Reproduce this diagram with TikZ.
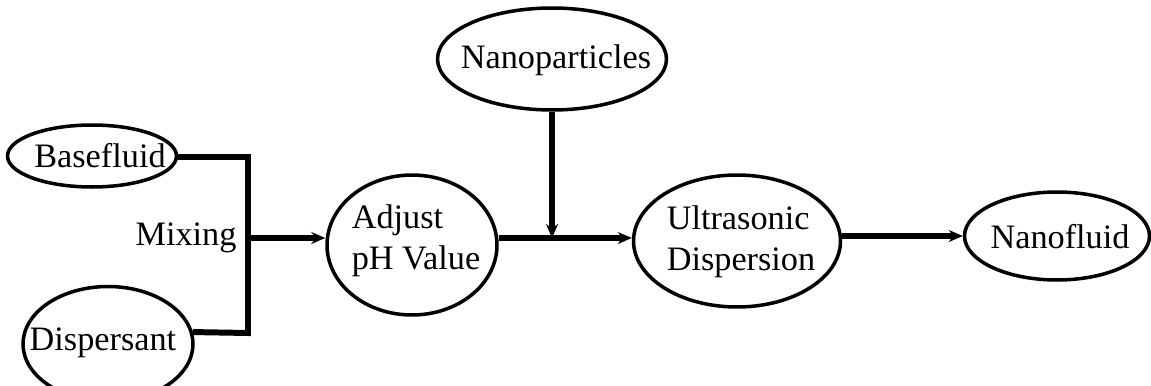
\documentclass[tikz,border=0pt]{standalone}
\usepackage{fontspec}
\setmainfont{Liberation Serif}
\usepackage{tikz}
\usetikzlibrary{arrows.meta,shapes.geometric}

\begin{document}
\begin{tikzpicture}[x=0.02cm,y=-0.02cm,>={Stealth[length=2.8mm,width=2.4mm]},
  font=\fontsize{19.5pt}{23.3pt}\selectfont,line cap=butt,
  oval/.style={ellipse,draw,line width=2pt,inner sep=0pt},
  word/.style={inner sep=0pt,align=left},
  flow/.style={->,line width=3pt}]
\useasboundingbox (0,0) rectangle (1151,385);
\begin{scope}
\clip (0,0) rectangle (1151,385);
\node[oval,minimum width=3.38cm,minimum height=1.24cm] (base) at (92,156) {};
\node[oval,minimum width=3.4cm,minimum height=2.3cm] (disp) at (108,344) {};
\end{scope}
\node[word] (basetxt) at (100,156) {Basefluid};
\node[word] (disptxt) at (103,343) {Dispersant};
\node[word] (mix) at (186,238) {Mixing};
\node[oval,minimum width=3.4cm,minimum height=2.8cm] (adj) at (412,245) {};
\node[word] (adjtxt) at (416,241) {Adjust\\pH Value};
\node[oval,minimum width=4.58cm,minimum height=2.04cm] (nano) at (552,59) {};
\node[word] (nanotxt) at (556,60) {Nanoparticles};
\node[oval,minimum width=4.14cm,minimum height=2.64cm] (ultra) at (737,241) {};
\node[word] (ultratxt) at (741,242) {Ultrasonic\\Dispersion};
\node[oval,minimum width=3.7cm,minimum height=1.76cm] (fluid) at (1057,236) {};
\node[word] (fluidtxt) at (1060,237) {Nanofluid};
% mixing bracket
\coordinate (jtop) at (248,157);
\coordinate (jmid) at (248,238);
\coordinate (jbot) at (248,333);
\coordinate (m) at (552,238);
\draw[line width=3.4pt,line join=miter] (base.east |- jtop) -- (jtop) -- (jbot) -- (disp.8);
\draw[flow] (jmid) -- (jmid -| adj.west);
\draw[flow] (adj.east |- m) -- (ultra.west |- m);
\draw[flow] (nano) -- (m);
\draw[flow] (ultra.east |- fluid.west) -- (fluid.west);
\end{tikzpicture}
\end{document}
